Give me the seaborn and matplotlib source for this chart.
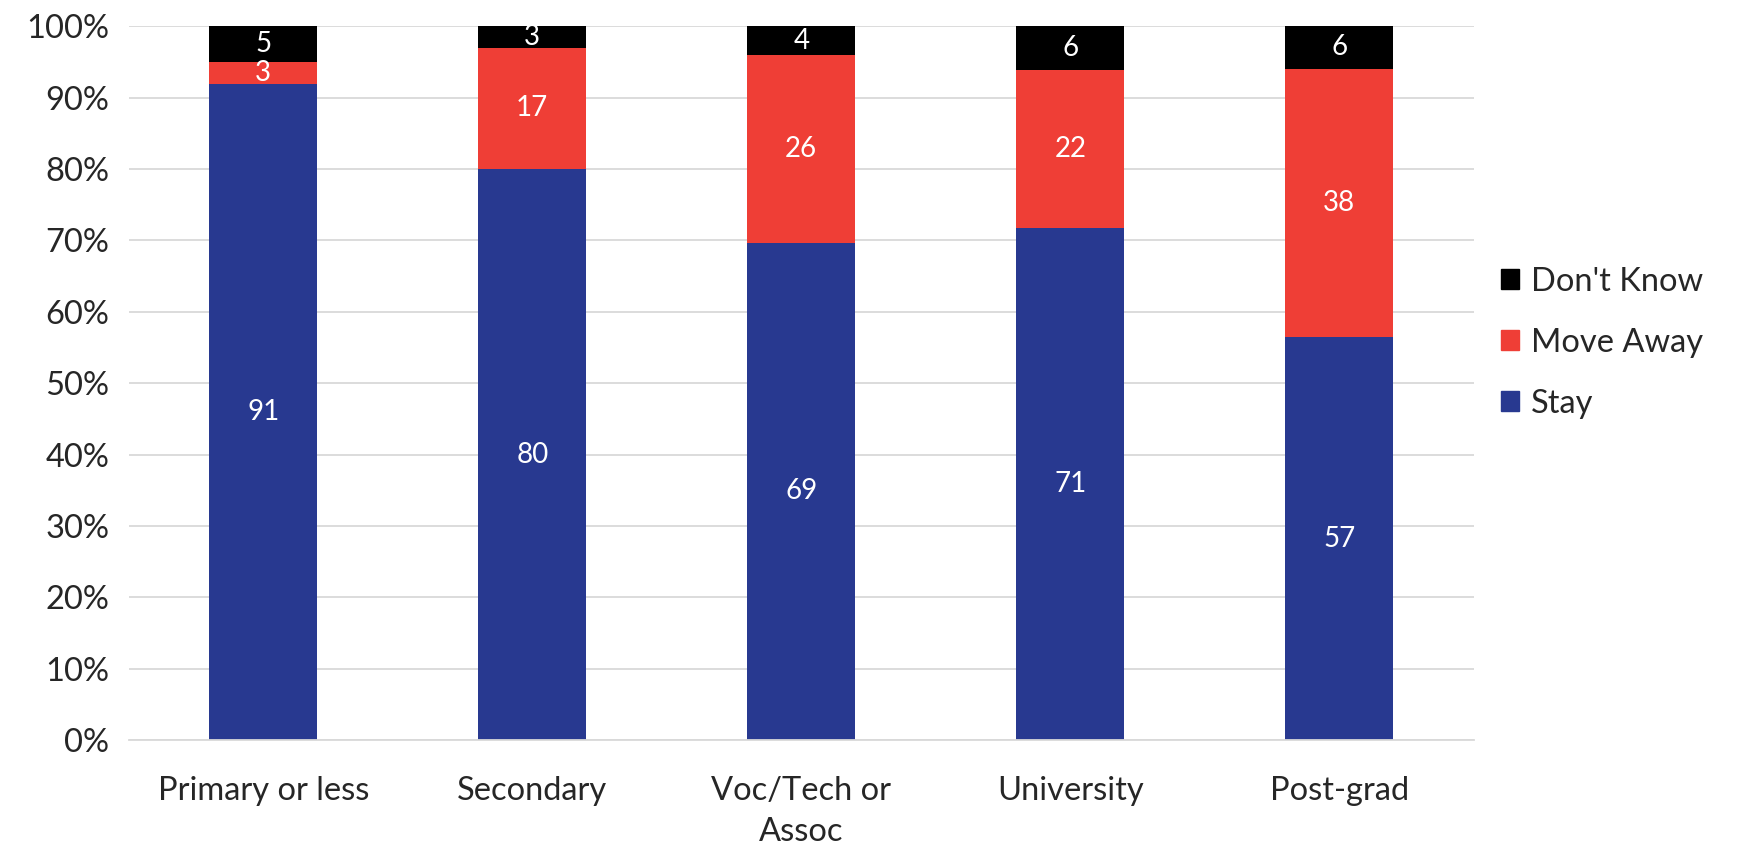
import numpy as np
import matplotlib.pyplot as plt
import pandas as pd
import seaborn as sns
from matplotlib.patches import Patch

# data
categories = ['Primary or less', 'Secondary', 'Voc/Tech or\nAssoc', 'University', 'Post-grad']
stay = [91, 80, 69, 71, 57]
move_away = [3, 17, 26, 22, 38]
dont_know = [5, 3, 4, 6, 6]

series_names = ['Stay', 'Move Away', "Don't Know"]
colors = ['#283990', '#EF3E36', '#000000']

sns.set_style('white')
plt.rcParams['font.family'] = ['Lato', 'DejaVu Sans']

df = pd.DataFrame({'category': categories, 'Stay': stay,
                   'Move Away': move_away, "Don't Know": dont_know})
totals = df[series_names].sum(axis=1)
# 100% stacked: share of each row
pct = df[series_names].div(totals, axis=0) * 100

fig, ax = plt.subplots(figsize=(17.4, 8.46), dpi=100)
fig.subplots_adjust(left=0.074, right=0.847, top=0.969, bottom=0.125)

bottom = np.zeros(len(categories))
for name, col in zip(series_names, colors):
    sns.barplot(x=df['category'], y=pct[name], color=col, bottom=bottom,
                width=0.4, ax=ax, saturation=1, linewidth=0)
    for i, (b, h, v) in enumerate(zip(bottom, pct[name], df[name])):
        ax.text(i, b + h / 2, str(v), ha='center', va='center',
                color='white', fontsize=20)
    bottom = bottom + pct[name].values

ax.set_ylim(0, 100)
ax.set_xlim(-0.5, 4.5)
ax.set_yticks(range(0, 101, 10))
ax.set_yticklabels([f'{t}%' for t in range(0, 101, 10)], fontsize=23.5)
ax.tick_params(axis='x', labelsize=23.5, length=0, pad=26)
ax.tick_params(axis='y', length=0, pad=14)
for lbl in ax.get_xticklabels():
    lbl.set_linespacing(1.45)
ax.set_xlabel('')
ax.set_ylabel('')
ax.yaxis.grid(True, color='#D9D9D9', linewidth=1.3)
ax.set_axisbelow(True)
for s in ['top', 'right', 'left']:
    ax.spines[s].set_visible(False)
ax.spines['bottom'].set_color('#D9D9D9')
ax.spines['bottom'].set_linewidth(1.3)

handles = [Patch(color=c, label=n) for n, c in zip(series_names, colors)][::-1]
fig.legend(handles=handles, loc='center left', bbox_to_anchor=(0.846, 0.595),
           frameon=False, fontsize=23.5, handlelength=0.55, handleheight=0.55,
           handletextpad=0.35, labelspacing=0.95)

plt.savefig('out.png', dpi=100)
